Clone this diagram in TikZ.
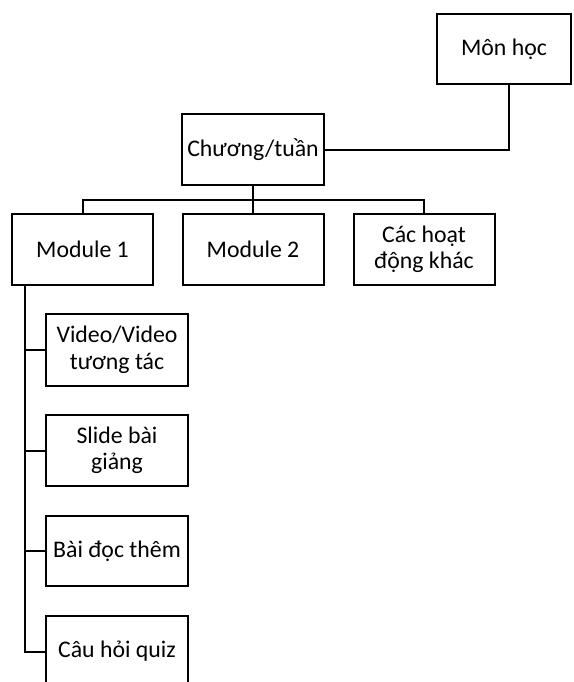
\documentclass[tikz,border=0pt]{standalone}
\usepackage{fontspec}
\setmainfont{Carlito}
\begin{document}
\begin{tikzpicture}[x=1pt,y=-1pt,
  box/.style={draw, line width=2pt, minimum width=141pt, minimum height=71pt,
    align=center, inner sep=2pt, font=\fontsize{23.8}{26.5}\selectfont},
  conn/.style={line width=2pt}]
\useasboundingbox (0,0) rectangle (573,682);
\clip (0,0) rectangle (573,682);
\node[box, minimum width=134pt, minimum height=70pt] (mon) at (504,49.5) {Môn học};
\node[box, minimum width=142pt] (chuong) at (253,149.5) {Chương/tuần};
\node[box] (m1) at (82.5,249.5) {Module 1};
\node[box] (m2) at (253,249.5) {Module 2};
\node[box] (cac) at (424,249.5) {Các hoạt\\động khác};
\node[box, minimum width=142pt, minimum height=72pt] (v1) at (117,350) {Video/Video\\tương tác};
\node[box, minimum width=142pt] (v2) at (117,450.5) {Slide bài\\giảng};
\node[box, minimum width=142pt, minimum height=70pt] (v3) at (117,551) {Bài đọc thêm};
\node[box, minimum width=142pt] (v4) at (117,651.5) {Câu hỏi quiz};
\coordinate (bar) at (0,200);
\coordinate (trunk) at (25,0);
\draw[conn] (chuong.east) -| ([xshift=5pt]mon.south);
\draw[conn] (chuong.south) -- (m2.north);
\draw[conn] (m1.north) |- (cac.north |- bar) -- (cac.north);
\draw[conn] (trunk |- m1.south) |- (v4.west);
\draw[conn] (trunk |- v1.west) -- (v1.west);
\draw[conn] (trunk |- v2.west) -- (v2.west);
\draw[conn] (trunk |- v3.west) -- (v3.west);
\end{tikzpicture}
\end{document}
